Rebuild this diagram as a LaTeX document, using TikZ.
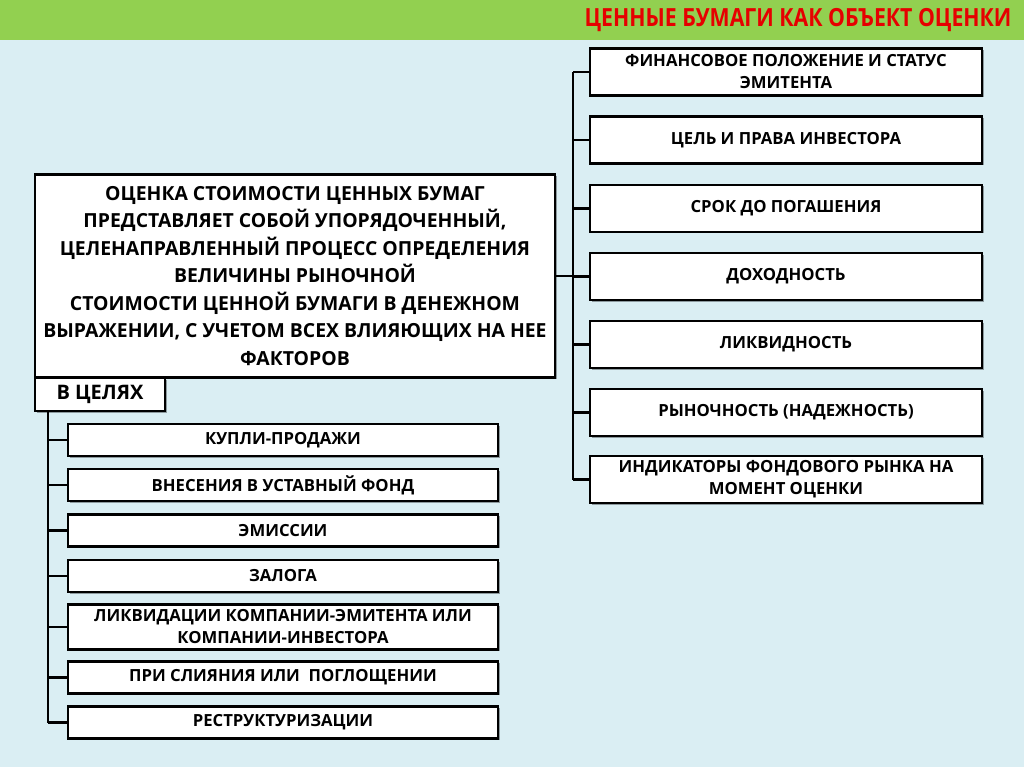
\documentclass[tikz,border=0pt]{standalone}
\usepackage{fontspec}
\setmainfont{Open Sans}
\newfontfamily\titlefont{Open Sans}[FakeStretch=0.85]
\usetikzlibrary{shadows}
\definecolor{bgblue}{HTML}{DAEEF3}
\definecolor{bargreen}{HTML}{92D050}
\definecolor{titlered}{HTML}{E60000}
\tikzset{box/.style={draw=black,line width=2.5pt,fill=white,align=center,inner sep=2pt,
    font=\bfseries\fontsize{16.7}{22}\selectfont,
    drop shadow={shadow xshift=1.5pt,shadow yshift=-1.5pt,opacity=.35,fill=black}},
  rbox/.style={box,minimum width=392pt,minimum height=47pt},
  lbox/.style={box,minimum width=430pt,minimum height=32pt},
  link/.style={line width=2.5pt}}

\begin{document}
\begin{tikzpicture}[x=1pt,y=-1pt]
\useasboundingbox (0,0) rectangle (1024,767);
\fill[bgblue] (0,0) rectangle (1024,767);\fill[bargreen] (0,0) rectangle (1024,40);
\node[anchor=east,text=titlered,font=\titlefont\bfseries\fontsize{25}{28}\selectfont] (title) at (1015,20){ЦЕННЫЕ БУМАГИ КАК ОБЪЕКТ ОЦЕНКИ};
% main box
\node[box,minimum width=520pt,minimum height=203pt,font=\bfseries\fontsize{19.4}{27.5}\selectfont] (main) at (295,276)
  {ОЦЕНКА СТОИМОСТИ ЦЕННЫХ БУМАГ\\ПРЕДСТАВЛЯЕТ СОБОЙ УПОРЯДОЧЕННЫЙ,\\ЦЕЛЕНАПРАВЛЕННЫЙ ПРОЦЕСС ОПРЕДЕЛЕНИЯ\\ВЕЛИЧИНЫ РЫНОЧНОЙ\\СТОИМОСТИ ЦЕННОЙ БУМАГИ В ДЕНЕЖНОМ\\ВЫРАЖЕНИИ, С УЧЕТОМ ВСЕХ ВЛИЯЮЩИХ НА НЕЕ\\ФАКТОРОВ};
\node[box,minimum width=130pt,minimum height=33pt,font=\bfseries\fontsize{20}{24}\selectfont] (goal) at (100,394.5){В ЦЕЛЯХ};
% right column
\node[rbox] (r1) at (786,72){ФИНАНСОВОЕ ПОЛОЖЕНИЕ И СТАТУС\\ЭМИТЕНТА};
\node[rbox] (r2) at (786,140){ЦЕЛЬ И ПРАВА ИНВЕСТОРА};
\node[rbox] (r3) at (786,208.5){СРОК ДО ПОГАШЕНИЯ};
\node[rbox] (r4) at (786,276.5){ДОХОДНОСТЬ};
\node[rbox] (r5) at (786,344.5){ЛИКВИДНОСТЬ};
\node[rbox] (r6) at (786,412.5){РЫНОЧНОСТЬ (НАДЕЖНОСТЬ)};
\node[rbox] (r7) at (786,479.5){ИНДИКАТОРЫ ФОНДОВОГО РЫНКА НА\\МОМЕНТ ОЦЕНКИ};
\coordinate (rt) at (573,0);
\draw[link] (rt |- r1.west) -- (rt |- r7.west);
\draw[link] (main.east) -- (main.east -| rt);
\foreach \n in {r1,r2,r3,r4,r5,r6,r7} \draw[link] (rt |- \n.west) -- (\n.west);
% left column
\node[lbox] (l1) at (283,440){КУПЛИ-ПРОДАЖИ};
\node[lbox] (l2) at (283,485){ВНЕСЕНИЯ В УСТАВНЫЙ ФОНД};
\node[lbox] (l3) at (283,530.5){ЭМИССИИ};
\node[lbox] (l4) at (283,576){ЗАЛОГА};
\node[lbox,minimum height=45pt] (l5) at (283,627){ЛИКВИДАЦИИ КОМПАНИИ-ЭМИТЕНТА ИЛИ\\КОМПАНИИ-ИНВЕСТОРА};
\node[lbox] (l6) at (283,677.5){ПРИ СЛИЯНИЯ ИЛИ \ ПОГЛОЩЕНИИ};
\node[lbox] (l7) at (283,722.5){РЕСТРУКТУРИЗАЦИИ};
\coordinate (lt) at (48,0);
\draw[link] (goal.south -| lt) -- (lt |- l7.west);
\foreach \n in {l1,l2,l3,l4,l5,l6,l7} \draw[link] (lt |- \n.west) -- (\n.west);
\end{tikzpicture}
\end{document}
